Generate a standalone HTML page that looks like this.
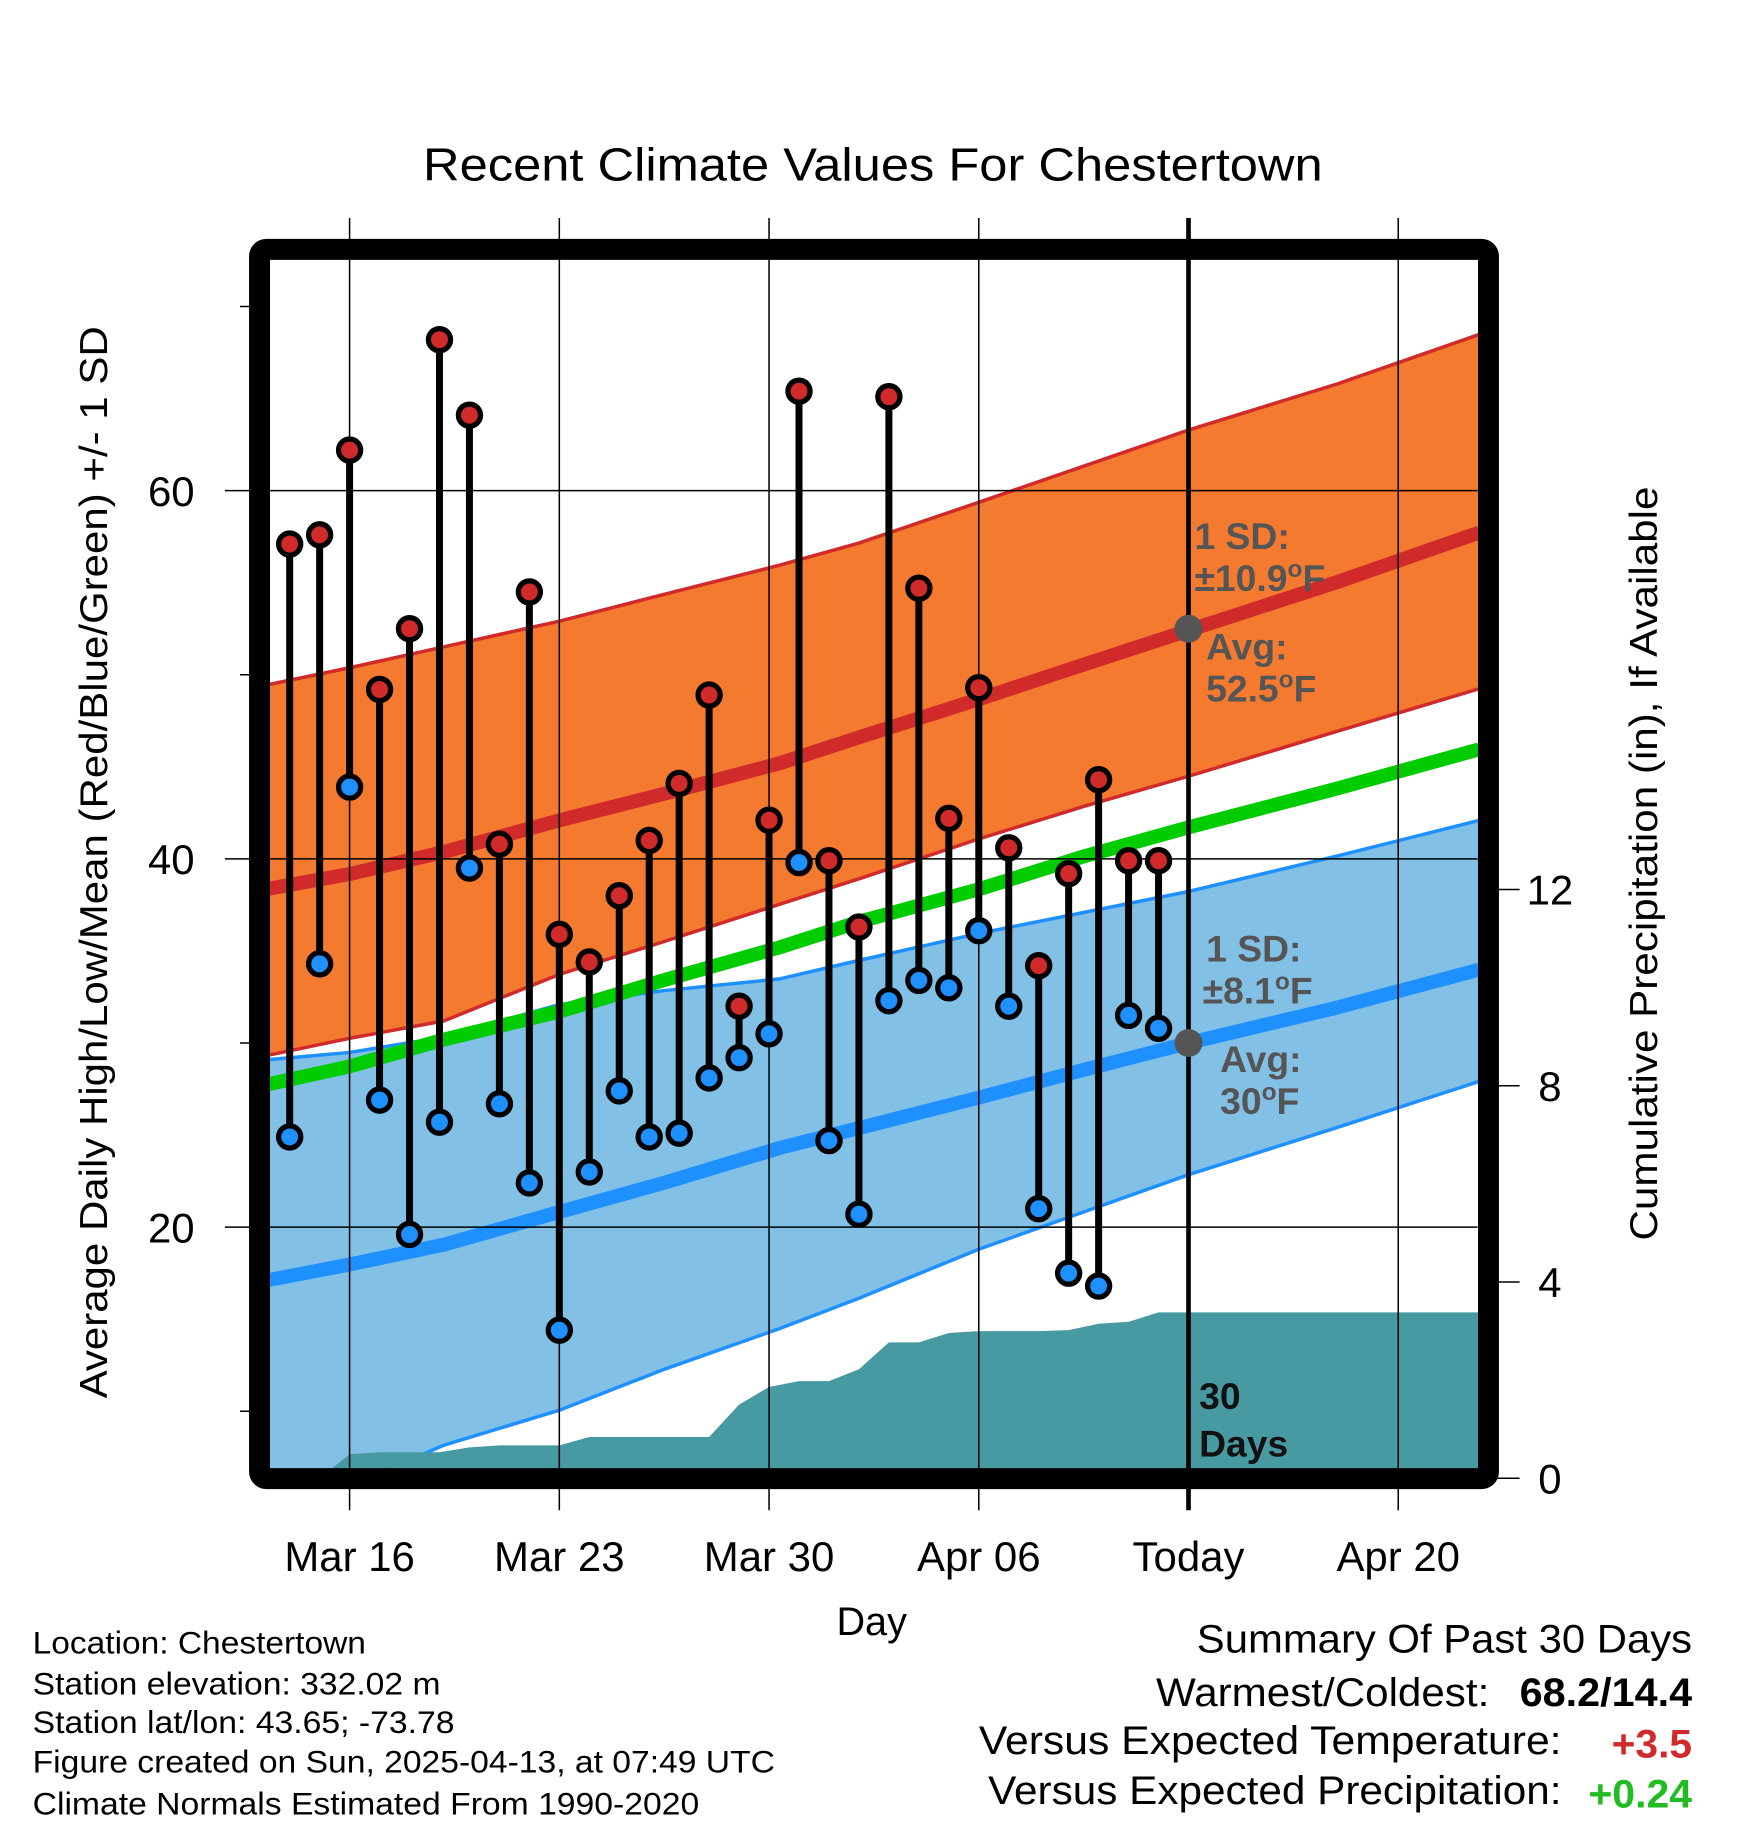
<!DOCTYPE html>
<html><head><meta charset="utf-8"><style>
html,body{margin:0;padding:0;background:#fff}
svg{display:block}
text{font-family:"Liberation Sans",sans-serif}
</style></head><body>
<svg id="c" width="1748" height="1828" viewBox="0 0 1500 1568.6" xmlns="http://www.w3.org/2000/svg">
<defs><clipPath id="pc"><rect x="231.7" y="223" width="1036.6" height="1037"/></clipPath></defs>
<g id="bands" clip-path="url(#pc)"></g>
<g id="grid"></g>
<g id="marks"></g>
<rect x="222.7" y="214" width="1054.6" height="1054.8" rx="6" fill="none" stroke="#000" stroke-width="18"/>
<g id="labels"></g>
<text x="749" y="155" font-size="40" text-anchor="middle" textLength="772" lengthAdjust="spacingAndGlyphs">Recent Climate Values For Chestertown</text>
<text x="748" y="1403" font-size="34" text-anchor="middle">Day</text>
<text transform="translate(92,740) rotate(-90)" font-size="33" text-anchor="middle" textLength="920" lengthAdjust="spacingAndGlyphs">Average Daily High/Low/Mean (Red/Blue/Green) +/- 1 SD</text>
<text transform="translate(1422,741) rotate(-90)" font-size="33" text-anchor="middle" textLength="647" lengthAdjust="spacingAndGlyphs">Cumulative Precipitation (in), If Available</text>
<g fill="#555" font-weight="bold" font-size="32">
<text x="1025" y="471">1 SD:</text>
<text x="1025" y="507">±10.9<tspan font-size="21" dy="-12">o</tspan><tspan dy="12">F</tspan></text>
<text x="1035" y="566">Avg:</text>
<text x="1035" y="602">52.5<tspan font-size="21" dy="-12">o</tspan><tspan dy="12">F</tspan></text>
</g>
<g fill="#555" font-weight="bold" font-size="32">
<text x="1035" y="825">1 SD:</text>
<text x="1032" y="861">±8.1<tspan font-size="21" dy="-12">o</tspan><tspan dy="12">F</tspan></text>
<text x="1047" y="920">Avg:</text>
<text x="1047" y="956">30<tspan font-size="21" dy="-12">o</tspan><tspan dy="12">F</tspan></text>
</g>
<text font-weight="bold" font-size="32" fill="#111"><tspan x="1029" y="1209">30</tspan><tspan x="1029" y="1250">Days</tspan></text>
<g font-size="27">
<text x="28" y="1419" textLength="286" lengthAdjust="spacingAndGlyphs">Location: Chestertown</text>
<text x="28" y="1454" textLength="350" lengthAdjust="spacingAndGlyphs">Station elevation: 332.02 m</text>
<text x="28" y="1487" textLength="362" lengthAdjust="spacingAndGlyphs">Station lat/lon: 43.65; -73.78</text>
<text x="28" y="1521" textLength="637" lengthAdjust="spacingAndGlyphs">Figure created on Sun, 2025-04-13, at 07:49 UTC</text>
<text x="28" y="1557" textLength="572" lengthAdjust="spacingAndGlyphs">Climate Normals Estimated From 1990-2020</text>
</g>
<g font-size="34">
<text x="1027" y="1418" textLength="425" lengthAdjust="spacingAndGlyphs">Summary Of Past 30 Days</text>
<text x="992" y="1464" textLength="286" lengthAdjust="spacingAndGlyphs">Warmest/Coldest:</text>
<text x="1304" y="1464" font-weight="bold" textLength="148" lengthAdjust="spacingAndGlyphs">68.2/14.4</text>
<text x="840" y="1505" textLength="500" lengthAdjust="spacingAndGlyphs">Versus Expected Temperature:</text>
<text x="1383" y="1508" font-weight="bold" fill="#d02a2a" textLength="69" lengthAdjust="spacingAndGlyphs">+3.5</text>
<text x="848" y="1548" textLength="492" lengthAdjust="spacingAndGlyphs">Versus Expected Precipitation:</text>
<text x="1363" y="1551" font-weight="bold" fill="#22bb22" textLength="89" lengthAdjust="spacingAndGlyphs">+0.24</text>
</g>
</svg>
<script>
// data
const dayLabels=["Mar 14","Mar 15","Mar 16","Mar 17","Mar 18","Mar 19","Mar 20","Mar 21","Mar 22","Mar 23","Mar 24","Mar 25","Mar 26","Mar 27","Mar 28","Mar 29","Mar 30","Mar 31","Apr 01","Apr 02","Apr 03","Apr 04","Apr 05","Apr 06","Apr 07","Apr 08","Apr 09","Apr 10","Apr 11","Apr 12"];
const highs=[57.1,57.6,62.2,49.2,52.5,68.2,64.1,40.8,54.5,35.9,34.4,38.0,41.0,44.1,48.9,32.0,42.1,65.4,39.9,36.3,65.1,54.7,42.2,49.3,40.6,34.2,39.2,44.3,39.9,39.9];
const lows=[24.9,34.3,43.9,26.9,19.6,25.7,39.5,26.7,22.4,14.4,23.0,27.4,24.9,25.1,28.1,29.2,30.5,39.8,24.7,20.7,32.3,33.4,33.0,36.1,32.0,21.0,17.5,16.8,31.5,30.8];
const precip=[0,0,0.49,0.53,0.53,0.53,0.63,0.67,0.67,0.67,0.84,0.84,0.84,0.84,0.84,1.5,1.86,1.98,1.98,2.22,2.77,2.77,2.96,3.0,3.0,3.0,3.02,3.15,3.19,3.38];
const normDays=[-3,0,3.15,7,10.5,14.35,17,21,24.5,28,32.9,37.7];
const hiUpper=[49.37,50.38,51.52,52.91,54.37,55.95,57.15,59.37,61.33,63.29,65.76,68.48];
const hiMean=[38.29,39.18,40.38,42.09,43.54,45.19,46.6,48.67,50.55,52.41,55.0,57.72];
const hiLower=[29.24,30.25,31.2,33.73,35.51,37.53,38.92,41.08,42.85,44.49,46.9,49.24];
const meanNorm=[27.66,28.73,30.19,31.71,33.42,35.19,36.58,38.35,40.13,41.71,43.8,45.95];
const loUpper=[29.05,29.49,30.32,32.09,32.85,33.48,34.49,35.95,37.09,38.23,40.13,42.09];
const loMean=[17.03,17.97,19.05,20.82,22.41,24.3,25.38,27.03,28.54,30.0,31.9,33.99];
const loLower=[4.68,5.95,8.16,10.06,12.28,14.49,16.14,18.8,20.82,22.85,25.38,27.91];
const xTicks=["Mar 16","Mar 23","Mar 30","Apr 06","Today","Apr 20"];
const yTicks=[20,40,60];
const yMinor=[10,30,50,70];
const pTicks=[0,4,8,12];

const X=d=>300+d*25.71;           // d = days from Mar 16
const Y=t=>1053-(t-20)*15.8;
const P=p=>1268.5-p*42.1;
const NS='http://www.w3.org/2000/svg';
function mk(tag,attrs,parent){const e=document.createElementNS(NS,tag);for(const k in attrs)e.setAttribute(k,attrs[k]);parent.appendChild(e);return e;}
const bands=document.getElementById('bands'),grid=document.getElementById('grid'),marks=document.getElementById('marks'),labels=document.getElementById('labels');
const pts=a=>a.map((v,i)=>X(normDays[i]).toFixed(1)+','+Y(v).toFixed(1));
function band(up,lo,fill,name){const p=pts(up).concat(pts(lo).reverse());const e=mk('polygon',{points:p.join(' '),fill:fill},bands);

}
function line(a,col,w,name){const e=mk('polyline',{points:pts(a).join(' '),fill:'none',stroke:col,'stroke-width':w,'stroke-linejoin':'round'},bands);

}
band(loUpper,loLower,'#82c0e6','low-sd-band');
line(loUpper,'#1e90ff',3,'low-upper-edge');line(loLower,'#1e90ff',3,'low-lower-edge');
line(loMean,'#1e90ff',12,'normal-low-line');
band(hiUpper,hiLower,'#f47a30','high-sd-band');
line(hiUpper,'#d02a2a',3,'high-upper-edge');line(hiLower,'#d02a2a',3,'high-lower-edge');
line(hiMean,'#d02a2a',12,'normal-high-line');
line(meanNorm,'#00cc00',12,'normal-mean-line');
// precipitation
{let p=[];precip.forEach((v,i)=>p.push(X(i-2).toFixed(1)+','+P(v).toFixed(1)));
p.push(X(37.7)+','+P(precip[precip.length-1]));p.push(X(37.7)+','+P(0));p.push(X(-2)+','+P(0));
const e=mk('polygon',{points:p.join(' '),fill:'#4799a2'},bands);

}
// grid
xTicks.forEach((t,i)=>{const x=X(i*7);
const l=mk('line',{x1:x,x2:x,y1:187,y2:1296,stroke:'#000','stroke-width':i==4?4:1.3},grid);


const tx=mk('text',{x:x,y:1348,'font-size':36,'text-anchor':'middle'},labels);tx.textContent=t;

});
yTicks.forEach(t=>{const y=Y(t);
const l=mk('line',{x1:193,x2:1268,y1:y,y2:y,stroke:'#000','stroke-width':1.3},grid);


const tx=mk('text',{x:167,y:y+13,'font-size':36,'text-anchor':'end'},labels);tx.textContent=t;

});
yMinor.forEach(t=>{const y=Y(t);const l=mk('line',{x1:206,x2:222,y1:y,y2:y,stroke:'#000','stroke-width':1.3},grid);

});
pTicks.forEach(t=>{const y=P(t);
const l=mk('line',{x1:1277,x2:1304,y1:y,y2:y,stroke:'#000','stroke-width':1.3},grid);


const tx=mk('text',{x:1330,y:y+13,'font-size':36,'text-anchor':'middle'},labels);tx.textContent=t;

});
// stems and points
highs.forEach((h,i)=>{const x=X(i-2);
const s=mk('line',{x1:x,x2:x,y1:Y(h),y2:Y(lows[i]),stroke:'#000','stroke-width':6},marks);

});
highs.forEach((h,i)=>{const x=X(i-2);
const a=mk('circle',{cx:x,cy:Y(h),r:9.5,fill:'#d02a2a',stroke:'#000','stroke-width':4.5},marks);


const b=mk('circle',{cx:x,cy:Y(lows[i]),r:9.5,fill:'#1e90ff',stroke:'#000','stroke-width':4.5},marks);

});
{const a=mk('circle',{cx:X(28),cy:Y(52.5),r:12,fill:'#555'},marks);


const b=mk('circle',{cx:X(28),cy:Y(30),r:12,fill:'#555'},marks);

}
</script>
</body></html>
